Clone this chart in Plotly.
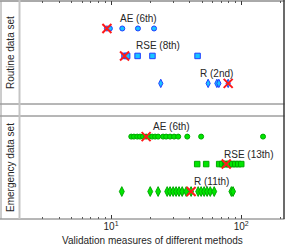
import numpy as np
import plotly.graph_objects as go

# ---------------- data ----------------
row_levels = {"AE": 3, "RSE": 2, "R": 1}

routine_ae = [9.3, 9.8, 12.2, 16.1, 21.4]
routine_rse = [12.7, 13.3, 16.0, 20.8, 46.2]
routine_r = [24.1, 55.7, 65.0, 67.3, 79.4]
routine_best = [9.3, 12.7, 79.4]          # AE, RSE, R (red crosses)
routine_labels = ["AE (6th)", "RSE (8th)", "R (2nd)"]

emergency_ae = [14.3, 15.0, 15.9, 16.7, 17.6, 18.6, 19.6, 20.7, 21.8, 23.0,
                25.1, 26.5, 28.4, 30.5, 32.8, 38.5, 49.2, 147.0]
emergency_rse = [45.9, 53.8, 67.7, 71.5, 75.4, 76.7, 80.9, 85.3, 89.9, 94.9,
                 100.0, 214.0]
emergency_r = [2.0, 12.1, 20.0, 23.0, 27.0, 28.4, 30.0, 31.6, 33.3, 35.2,
               37.8, 41.2, 46.7, 49.2, 51.9, 54.7, 57.8, 62.0, 84.0, 86.5]
emergency_best = [18.6, 76.7, 41.2]
emergency_labels = ["AE (6th)", "RSE (13th)", "R (11th)"]

x_min, x_max = 2.0, 213.0

# ---------------- styling ----------------
W, H = 288, 246
FONT = "Liberation Sans, Arial, Helvetica, sans-serif"
TXT = "#262626"
blue_fill, blue_edge = "#19C3FF", "#1F3FFF"
green_fill, green_edge = "#00E600", "#00A800"

def px_x(p):
    return p / W

def px_y(p):
    return (H - p) / H

fig = go.Figure()

def add_rows(ae, rse, r, best, xa, ya, fill, edge, dsize):
    specs = [(ae, "AE", "circle", 5, True), (rse, "RSE", "square", 5.5, True),
             (r, "R", "diamond-tall", dsize, False)]
    for vals, key, sym, size, clip in specs:
        fig.add_trace(go.Scatter(
            x=vals, y=[row_levels[key]] * len(vals), mode="markers",
            xaxis=xa, yaxis=ya, showlegend=False, cliponaxis=clip,
            marker=dict(symbol=sym, size=size, color=fill,
                        line=dict(color=edge, width=1))))
    fig.add_trace(go.Scatter(
        x=best, y=[row_levels[k] for k in ["AE", "RSE", "R"]], mode="markers",
        xaxis=xa, yaxis=ya, showlegend=False,
        marker=dict(symbol="x-thin", size=9, color="red",
                    line=dict(color="#FF1A1A", width=2))))

add_rows(routine_ae, routine_rse, routine_r, routine_best, "x", "y",
         blue_fill, blue_edge, 6)
add_rows(emergency_ae, emergency_rse, emergency_r, emergency_best, "x2", "y2",
         green_fill, green_edge, 7)

xr = [np.log10(x_min), np.log10(x_max)]
minor_vals = [v * m for m in (1, 10, 100) for v in range(2, 10) if x_min <= v * m <= x_max]
xdom = [px_x(20), px_x(284)]

common_x = dict(type="log", range=xr, domain=xdom, showgrid=False, zeroline=False,
                showline=False, ticks="inside", ticklen=4, tickcolor="#333",
                tickvals=[10, 100], ticktext=["10<sup>1</sup>", "10<sup>2</sup>"],
                minor=dict(tickvals=minor_vals, ticks="inside", ticklen=2,
                           tickcolor="#555", showgrid=False),
                tickfont=dict(family=FONT, size=10, color=TXT), automargin=False)

fig.update_layout(
    width=W, height=H, margin=dict(l=0, r=0, t=0, b=0),
    paper_bgcolor="white", plot_bgcolor="white",
    xaxis=dict(common_x, anchor="y", side="top", showticklabels=False),
    yaxis=dict(domain=[px_y(104), px_y(1)], range=[0.25, 4.0], showgrid=False,
               zeroline=False, showticklabels=False, ticks="", showline=False,
               automargin=False),
    xaxis2=dict(common_x, anchor="y2", side="bottom", showticklabels=True),
    yaxis2=dict(domain=[px_y(219), px_y(116)], range=[0.0, 3.75], showgrid=False,
                zeroline=False, showticklabels=False, ticks="", showline=False,
                automargin=False),
)

# frame lines
shapes = []
for yy, col in [(1, "#555555"), (104, "#6e6e6e"), (116, "#6e6e6e"), (219, "#6e6e6e")]:
    shapes.append(dict(type="line", xref="paper", yref="paper", x0=0, x1=px_x(284.5),
                       y0=px_y(yy), y1=px_y(yy), line=dict(color=col, width=1)))
shapes.append(dict(type="line", xref="paper", yref="paper", x0=px_x(1), x1=px_x(1),
                   y0=px_y(1), y1=px_y(219), line=dict(color="#9a9a9a", width=1)))
shapes.append(dict(type="line", xref="paper", yref="paper", x0=px_x(19.5), x1=px_x(19.5),
                   y0=px_y(0), y1=px_y(219), line=dict(color="#c4c4c4", width=2)))
shapes.append(dict(type="line", xref="paper", yref="paper", x0=px_x(284), x1=px_x(284),
                   y0=px_y(0), y1=px_y(219), line=dict(color="#3a3a3a", width=1.5)))
fig.update_layout(shapes=shapes)

ann = []
lab_font = dict(family=FONT, size=10, color=TXT)
routine_label_x = [11.3, 15.0, 46.7]
emergency_label_x = [20.2, 71.1, 42.0]
for labels, lx, xa, ya in [(routine_labels, routine_label_x, "x", "y"),
                           (emergency_labels, emergency_label_x, "x2", "y2")]:
    for lab, xv, key in zip(labels, lx, ["AE", "RSE", "R"]):
        ann.append(dict(text=lab, xref=xa, yref=ya, x=np.log10(xv), y=row_levels[key],
                        xanchor="left", yanchor="middle", yshift=10, showarrow=False,
                        font=lab_font))
ann.append(dict(text="Routine data set", xref="paper", yref="paper", x=px_x(10.5),
                y=px_y(52.5), textangle=-90, showarrow=False, font=lab_font,
                xanchor="center", yanchor="middle"))
ann.append(dict(text="Emergency data set", xref="paper", yref="paper", x=px_x(10.5),
                y=px_y(167.5), textangle=-90, showarrow=False, font=lab_font,
                xanchor="center", yanchor="middle"))
ann.append(dict(text="Validation measures of different methods", xref="paper",
                yref="paper", x=px_x(152), y=px_y(240), showarrow=False, font=lab_font,
                xanchor="center", yanchor="middle"))
fig.update_layout(annotations=ann)

fig.write_html("out.html", config={"displayModeBar": False},
               post_script="document.body.style.margin='0';")
